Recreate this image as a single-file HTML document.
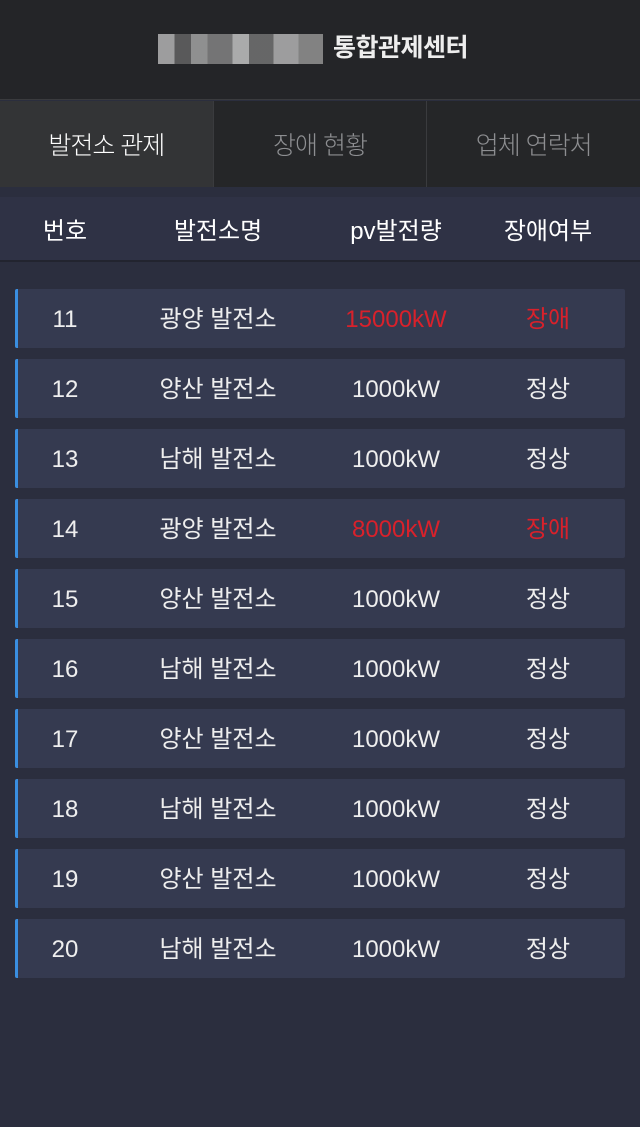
<!DOCTYPE html>
<html><head><meta charset="utf-8"><style>
*{margin:0;padding:0;box-sizing:border-box}
body{width:640px;height:1127px;background:#2b2e3e;font-family:"Liberation Sans","Noto Sans CJK KR",sans-serif;color:#fff;overflow:hidden;position:relative}
.hdr{position:absolute;left:0;top:0;width:640px;height:100px;background:#242528;border-bottom:1px solid #3a3b3e}
.logo{position:absolute;left:158px;top:34px;width:165px;height:30px;background:linear-gradient(90deg,#bbb 0 10%,#666 10% 20%,#aaa 20% 30%,#888 30% 45%,#ccc 45% 55%,#777 55% 70%,#bbb 70% 85%,#999 85%);opacity:.8}
.title{position:absolute;left:333px;top:33px;font-size:25px;font-weight:bold;color:#eee;line-height:30px;letter-spacing:-0.5px}
.tabs{position:absolute;top:101px;left:0;width:640px;height:86px;display:flex;background:#252628}
.tab{flex:1;display:flex;align-items:center;justify-content:center;font-size:25px;font-weight:300;color:#8d8e91;border-left:1px solid #3a3b3e;letter-spacing:-1px}
.tab.on{background:#333436;color:#fff;border-left:none}
.th{position:absolute;top:197px;left:0;width:640px;height:65px;background:#2f3245;border-bottom:2px solid #22242f}
.cell{position:absolute;width:200px;text-align:center;font-weight:normal}
.th .cell{top:19px;font-size:24px;line-height:32px;color:#fff}
.row{position:absolute;left:15px;width:610px;height:59px;background:#353a50;border-left:3px solid #3a8ee0;border-radius:2px;font-size:24px;color:#eee}
.row .cell{top:14px;line-height:34px}
.red{color:#d9212b}
</style></head><body>
<div class="hdr">
<div class="logo"></div>
<div class="title">통합관제센터</div></div>
<div class="tabs">
<div class="tab on">발전소 관제</div>
<div class="tab">장애 현황</div>
<div class="tab">업체 연락처</div></div>
<div class="th">
<div class="cell" style="left:-35px">번호</div>
<div class="cell" style="left:118px">발전소명</div>
<div class="cell" style="left:296px">pv발전량</div>
<div class="cell" style="left:448px">장애여부</div></div>
<div id="rows"></div>
<script>
const ids=[11,12,13,14,15,16,17,18,19,20];
const names=["광양 발전소","양산 발전소","남해 발전소","광양 발전소","양산 발전소","남해 발전소","양산 발전소","남해 발전소","양산 발전소","남해 발전소"];
const outputs=[15000,1000,1000,8000,1000,1000,1000,1000,1000,1000];
const status=["장애","정상","정상","장애","정상","정상","정상","정상","정상","정상"];
const wrap=document.getElementById('rows');
const lefts=[-53,100,278,430];
ids.forEach((id,i)=>{
const r=document.createElement('div');
r.className='row';
r.style.top=(289+i*70)+'px';


const bad=status[i]==='장애';
const vals=[id,names[i],outputs[i]+'kW',status[i]];
const nm=['row-number','row-plant-name','row-pv-output','row-status'];
vals.forEach((v,j)=>{const c=document.createElement('div');c.className='cell'+((bad&&j>=2)?' red':'');c.style.left=lefts[j]+'px';c.textContent=v;


r.appendChild(c);});
wrap.appendChild(r);});
</script>
</body></html>
